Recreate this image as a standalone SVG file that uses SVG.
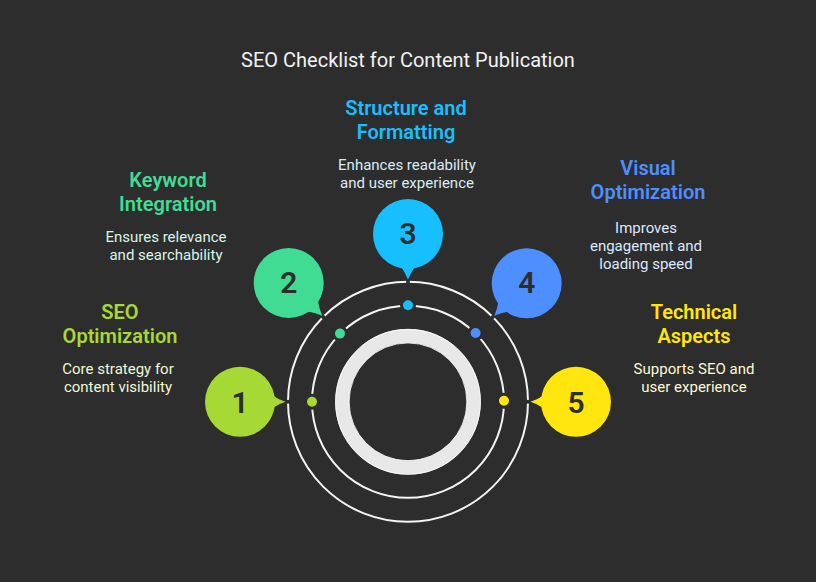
<svg xmlns="http://www.w3.org/2000/svg" width="816" height="582" viewBox="0 0 816 582">
<style>
text{font-family:Roboto,"Liberation Sans",sans-serif;text-anchor:middle}
.title{font-size:20px;font-weight:400;fill:#f2f2f2}
.h{font-size:20px;font-weight:600}
.d{font-size:15px}
.n{font-size:30px;font-weight:600;fill:#2d2d2d}
.ring{fill:none;stroke:#f4f4f4;stroke-width:2}
.gap{fill:#2d2d2d}
.dot{stroke:#2d2d2d;stroke-width:3}
.edge{fill:none;stroke:#fff;stroke-width:.8}
</style>
<rect width="816" height="582" fill="#2d2d2d"/>
<text class="title" x="408" y="67">SEO Checklist for Content Publication</text>
<g id="connectors">
<circle class="ring" cx="408" cy="401.800" r="120"/>
<circle class="ring" cx="408" cy="401.800" r="96"/>
<circle class="gap" cx="288" cy="401.800" r="2"/>
<circle class="gap" cx="323.150" cy="316.950" r="2"/>
<circle class="gap" cx="408" cy="281.800" r="2"/>
<circle class="gap" cx="492.850" cy="316.950" r="2"/>
<circle class="gap" cx="528" cy="401.800" r="2"/>
</g>
<g id="core">
<circle cx="408" cy="401.800" r="65.700" fill="none" stroke="#e8e8e8" stroke-width="14"/>
<circle class="edge" cx="408" cy="401.800" r="72.500"/>
<circle class="edge" cx="408" cy="401.800" r="58.900"/>
</g>
<g id="node1">
<circle class="dot" cx="312" cy="401.800" r="6.500" fill="#a6d933"/>
<path d="M272 395Q279 400 285.500 401.800Q279 403.600 272 408.600Z" fill="#a6d933"/>
<circle cx="240" cy="401.800" r="35" fill="#a6d933"/>
<text class="n" x="240" y="412.700">1</text>
<text class="h" x="120" y="319" fill="#a6d933">SEO</text>
<text class="h" x="120" y="343" fill="#a6d933">Optimization</text>
<text class="d" x="118" y="374" fill="#eef7d6">Core strategy for</text>
<text class="d" x="118" y="392" fill="#eef7d6">content visibility</text>
</g>
<g id="node2">
<circle class="dot" cx="340" cy="333.600" r="6.500" fill="#40dc94"/>
<path d="M318 301Q319.500 310 322.300 316Q316 312.500 307 311.500Z" fill="#40dc94"/>
<circle cx="288.700" cy="283" r="35" fill="#40dc94"/>
<text class="n" x="288.700" y="293">2</text>
<text class="h" x="168" y="187" fill="#40dc94">Keyword</text>
<text class="h" x="168" y="211" fill="#40dc94">Integration</text>
<text class="d" x="166" y="242" fill="#d6f5e7">Ensures relevance</text>
<text class="d" x="166" y="260" fill="#d6f5e7">and searchability</text>
</g>
<g id="node3">
<circle class="dot" cx="408" cy="305.300" r="6.500" fill="#18bfff"/>
<path d="M400.500 266Q405 272 408 279.500Q411 272 415.500 266Z" fill="#18bfff"/>
<circle cx="408" cy="234" r="35" fill="#18bfff"/>
<text class="n" x="408" y="243.500">3</text>
<text class="h" x="406" y="115" fill="#18bfff">Structure and</text>
<text class="h" x="406" y="139" fill="#18bfff">Formatting</text>
<text class="d" x="407" y="170" fill="#d9ecf5">Enhances readability</text>
<text class="d" x="407" y="188" fill="#d9ecf5">and user experience</text>
</g>
<g id="node4">
<circle class="dot" cx="475.600" cy="333" r="6.500" fill="#4d8fff"/>
<path d="M498.600 301Q497 310 494.300 316Q500.600 312.500 509.600 311.500Z" fill="#4d8fff"/>
<circle cx="526.700" cy="283.300" r="35" fill="#4d8fff"/>
<text class="n" x="526.700" y="293">4</text>
<text class="h" x="648" y="175" fill="#4d8fff">Visual</text>
<text class="h" x="648" y="199" fill="#4d8fff">Optimization</text>
<text class="d" x="646" y="233" fill="#dce8ff">Improves</text>
<text class="d" x="646" y="251" fill="#dce8ff">engagement and</text>
<text class="d" x="646" y="269" fill="#dce8ff">loading speed</text>
</g>
<g id="node5">
<circle class="dot" cx="504" cy="400.800" r="6.500" fill="#ffe60f"/>
<path d="M544 395Q537 400 530.500 401.800Q537 403.600 544 408.600Z" fill="#ffe60f"/>
<circle cx="576" cy="401.800" r="35" fill="#ffe60f"/>
<text class="n" x="576" y="412.700">5</text>
<text class="h" x="694" y="319" fill="#ffe60f">Technical</text>
<text class="h" x="694" y="343" fill="#ffe60f">Aspects</text>
<text class="d" x="694" y="374" fill="#fff9d1">Supports SEO and</text>
<text class="d" x="694" y="392" fill="#fff9d1">user experience</text>
</g>
</svg>
